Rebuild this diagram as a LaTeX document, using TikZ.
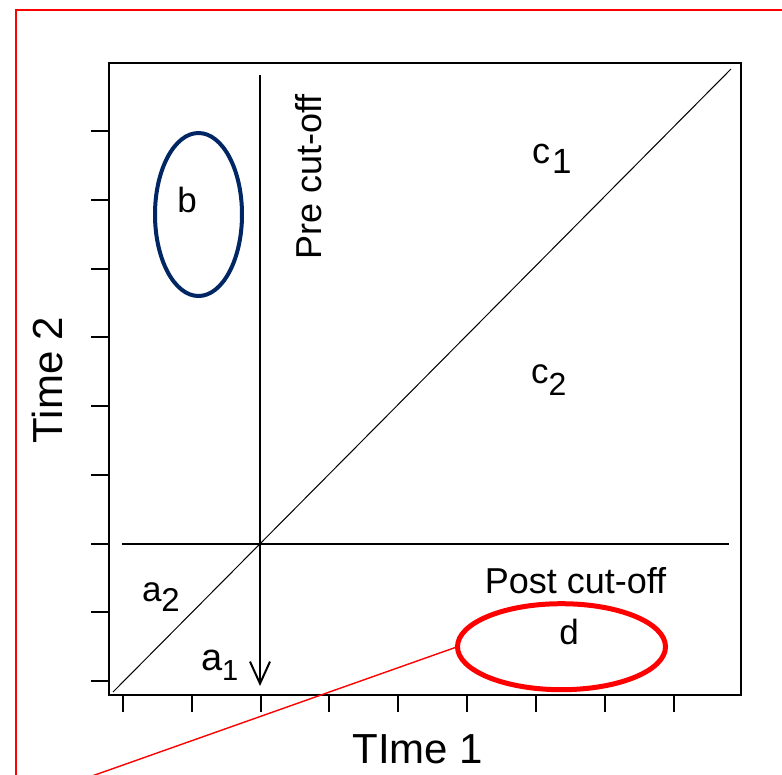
\documentclass[tikz,border=0pt]{standalone}
\usepackage{fontspec}
\setmainfont{Liberation Sans}
\usepackage{xcolor}
\definecolor{vermelho}{RGB}{255,0,0}
\definecolor{azulE}{RGB}{0,38,100}
\usepackage{tikz}
\usetikzlibrary{arrows.meta,shapes.geometric,positioning,calc}

\newcommand{\tam}[1]{\fontsize{#1}{#1}\selectfont}

\begin{document}
\begin{tikzpicture}[x=1pt,y=-1pt,
  eixo/.style={line width=2pt},
  rotulo/.style={anchor=base,inner sep=0pt,outer sep=0pt}]
  \useasboundingbox (0,0) rectangle (782,774);
  \clip (0,0) rectangle (782,774);
  \draw[vermelho, line width=2pt] (16,10) rectangle (900,900);
  \node[draw, line width=2pt, minimum width=632pt, minimum height=632pt,
  inner sep=0pt, outer sep=0pt, anchor=north west] (caixa) at (109,63) {};
  \foreach \i in {0,...,8}{
    \draw[eixo] (91,131+\i*68.75) -- (109,131+\i*68.75);
    \draw[eixo] (122.7+\i*68.9,695) -- (122.7+\i*68.9,712);
  }
  \coordinate (diagIni) at (113,692);
  \coordinate (diagFim) at (731,69);
  \draw[line width=1pt] (diagIni) -- (diagFim);
  \coordinate (corteTopo) at (260,75);
  \coordinate (corteBase) at (260,686);
  \draw[eixo, -{Straight Barb[length=22pt,width=20pt]}] (corteTopo) -- (corteBase);
  \coordinate (horizIni) at (122,543.5);
  \coordinate (horizFim) at (729,543.5);
  \draw[eixo] (horizIni) -- (horizFim);
  \node[ellipse, draw=azulE, line width=4pt, minimum width=87pt,
  minimum height=163pt, inner sep=0pt] (anelB) at (198.5,214.5) {};
  \node[ellipse, draw=vermelho, line width=5pt, minimum width=208pt,
  minimum height=86pt, inner sep=0pt, outer sep=0pt] (anelD) at (561.5,646.7) {};
  \coordinate (linhaIni) at (92,776);
  \draw[vermelho, line width=1.4pt] (linhaIni) -- (anelD.west);
  \node[rotulo, font=\tam{42}] (tempo1) at (418,763) {TIme 1};
  \node[rotulo, font=\tam{42}, rotate=90] (tempo2) at (62,380) {Time 2};
  \node[rotulo, font=\tam{36}, rotate=90] (pre) at (321,177) {Pre cut-off};
  \node[rotulo, font=\tam{36}] (pos) at (575.5,593) {Post cut-off};
  \node[rotulo, font=\tam{35}] (rotD) at (569,644) {d};
  \node[rotulo, font=\tam{35}] (rotB) at (187,212) {b};
  \node[rotulo, anchor=base west, font=\tam{36}] (rotC1) at (532,163)
  {c\kern2pt\raisebox{-10pt}{\tam{35}1}};
  \node[rotulo, anchor=base west, font=\tam{35}] (rotC2) at (531,383)
  {c\raisebox{-12pt}{\tam{32}2}};
  \node[rotulo, anchor=base west, font=\tam{35}] (rotA2) at (142,601)
  {a\raisebox{-10pt}{\tam{33}2}};
  \node[rotulo, anchor=base west, font=\tam{38}] (rotA1) at (201,670)
  {a\raisebox{-10pt}{\tam{29}1}};
\end{tikzpicture}
\end{document}
